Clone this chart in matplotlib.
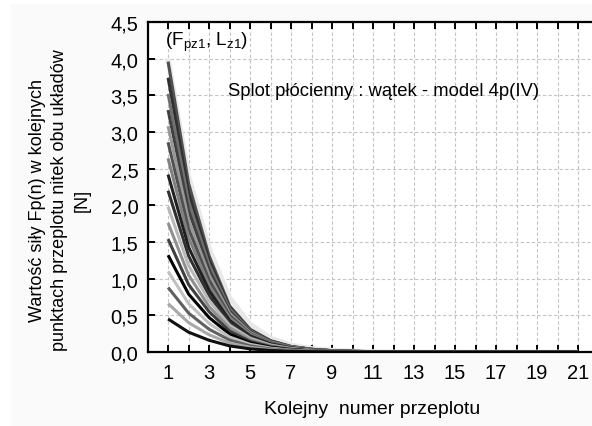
import matplotlib
matplotlib.use("Agg")
import matplotlib.pyplot as plt
from matplotlib.patches import Rectangle

plt.rcParams['font.family'] = ['Liberation Sans', 'DejaVu Sans']
plt.rcParams['mathtext.fontset'] = 'custom'
plt.rcParams['mathtext.rm'] = 'Liberation Sans'
plt.rcParams['mathtext.it'] = 'Liberation Sans'

x_numbers = list(range(1, 22))
x_tick_labels = [str(v) for v in range(1, 22, 2)]
y_ticks = [0.0, 0.5, 1.0, 1.5, 2.0, 2.5, 3.0, 3.5, 4.0, 4.5]
y_tick_labels = ["0,0", "0,5", "1,0", "1,5", "2,0", "2,5", "3,0", "3,5", "4,0", "4,5"]

z = [0.0] * 10
back_light = [4.00, 2.40, 1.42, 0.74, 0.38, 0.19, 0.095, 0.048, 0.024, 0.012, 0.006] + z
s17 = [3.96, 2.30, 1.31, 0.63, 0.31, 0.155, 0.076, 0.038, 0.019, 0.009, 0.005] + z
s16 = [3.74, 2.17, 1.25, 0.61, 0.30, 0.150, 0.074, 0.037, 0.018, 0.009, 0.005] + z
s15 = [3.52, 2.05, 1.19, 0.59, 0.29, 0.145, 0.072, 0.036, 0.018, 0.009, 0.005] + z
s14 = [3.30, 1.93, 1.12, 0.56, 0.28, 0.140, 0.070, 0.035, 0.017, 0.009, 0.004] + z
s13 = [3.08, 1.80, 1.05, 0.53, 0.265, 0.134, 0.067, 0.034, 0.017, 0.008, 0.004] + z
s12 = [2.86, 1.68, 0.98, 0.50, 0.25, 0.128, 0.064, 0.032, 0.016, 0.008, 0.004] + z
s11 = [2.64, 1.56, 0.91, 0.47, 0.24, 0.120, 0.060, 0.030, 0.015, 0.008, 0.004] + z
s10 = [2.42, 1.43, 0.84, 0.43, 0.22, 0.112, 0.056, 0.028, 0.014, 0.007, 0.004] + z
s9 = [2.20, 1.31, 0.77, 0.40, 0.207, 0.104, 0.052, 0.026, 0.013, 0.007, 0.003] + z
s8 = [1.98, 1.18, 0.70, 0.366, 0.188, 0.095, 0.048, 0.024, 0.012, 0.006, 0.003] + z
s7 = [1.76, 1.05, 0.62, 0.326, 0.167, 0.084, 0.042, 0.021, 0.011, 0.005, 0.003] + z
s6 = [1.54, 0.92, 0.55, 0.285, 0.146, 0.074, 0.037, 0.018, 0.009, 0.005, 0.002] + z
s5 = [1.32, 0.79, 0.47, 0.244, 0.125, 0.063, 0.032, 0.016, 0.008, 0.004, 0.002] + z
s4 = [1.10, 0.66, 0.39, 0.204, 0.105, 0.053, 0.026, 0.013, 0.007, 0.003, 0.002] + z
s3 = [0.88, 0.53, 0.31, 0.163, 0.084, 0.042, 0.021, 0.011, 0.005, 0.003, 0.001] + z
s2 = [0.66, 0.40, 0.235, 0.122, 0.063, 0.032, 0.016, 0.008, 0.004, 0.002, 0.001] + z
s1 = [0.45, 0.27, 0.16, 0.083, 0.043, 0.022, 0.011, 0.005, 0.003, 0.001, 0.001] + z

series = [back_light, s17, s16, s15, s14, s13, s12, s11, s10, s9, s8, s7, s6, s5, s4, s3, s2, s1]
colors = ['#e8e8e8', '#505050', '#303030', '#707070', '#404040', '#989898', '#505050',
          '#808080', '#202020', '#303030', '#b8b8b8', '#909090', '#404040', '#000000',
          '#c0c0c0', '#606060', '#a8a8a8', '#101010']
widths = [3.5] + [2.2] * 17

fig = plt.figure(figsize=(5.92, 4.27), dpi=100, facecolor='white')
fig.patches.append(Rectangle((11 / 592, 0), 1, 1 - 5 / 427, transform=fig.transFigure,
                             facecolor='#fafafa', edgecolor='none', zorder=-10))

ax = fig.add_axes([148 / 592, 1 - 353 / 427, (598.5 - 148) / 592, 330 / 427])
ax.set_facecolor('white')

for vals, c, w in zip(series, colors, widths):
    ax.plot(x_numbers, vals, color=c, lw=w, solid_joinstyle='round', solid_capstyle='butt',
            clip_on=True)

ax.set_xlim(0.02, 22)
ax.set_ylim(0, 4.5)
ax.set_xticks(x_numbers)
ax.set_xticklabels([str(v) if v % 2 == 1 else '' for v in x_numbers])
ax.set_yticks(y_ticks)
ax.set_yticklabels(y_tick_labels)

ax.grid(True, color='#c4c4c4', linestyle=(0, (3, 2)), linewidth=0.8)
ax.set_axisbelow(True)

for side in ['left', 'bottom', 'top']:
    ax.spines[side].set_linewidth(1.6)
    ax.spines[side].set_color('black')
ax.spines['right'].set_visible(False)

ax.tick_params(axis='x', which='both', direction='in', top=True, bottom=True, length=5,
               width=1.4, labelsize=14.5, pad=8)
ax.tick_params(axis='y', which='both', direction='in', left=True, right=False, length=5,
               width=1.4, labelsize=14.5, pad=7)

ax.text(0.85, 4.23, r'(F$_{\mathrm{pz1}}$, L$_{\mathrm{z1}}$)', fontsize=13.7, va='center', ha='left')
ax.text(3.93, 3.56, 'Splot płócienny : wątek - model 4p(IV)', fontsize=13.3, va='center', ha='left')

fig.text(60 / 592, 1 - 200 / 427,
         'Wartość siły Fp(n) w kolejnych\npunktach przeplotu nitek obu układów\n[N]',
         rotation=90, ha='center', va='center', multialignment='center', fontsize=13,
         linespacing=1.4)
fig.text(372 / 592, 1 - 410 / 427, 'Kolejny  numer przeplotu', ha='center', va='center',
         fontsize=14)

fig.savefig('out.png', dpi=100, facecolor=fig.get_facecolor())
